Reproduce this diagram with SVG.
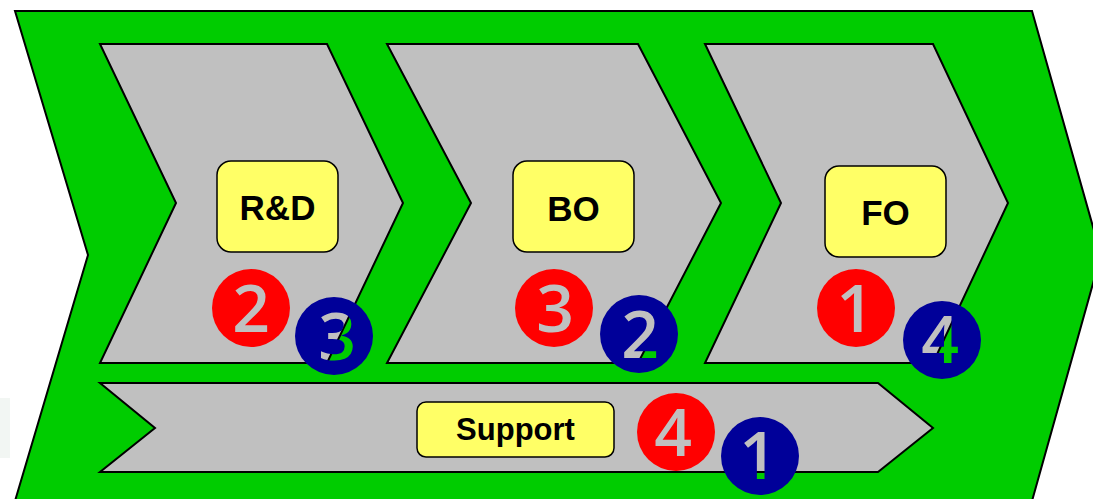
<svg xmlns="http://www.w3.org/2000/svg" xmlns:xlink="http://www.w3.org/1999/xlink" width="1093" height="499" viewBox="0 0 1093 499">
  <style>
    .frame { fill: #00cc00; stroke: #000; stroke-width: 2; stroke-linejoin: miter; }
    .stage { fill: #c0c0c0; stroke: #000; stroke-width: 2; stroke-linejoin: miter; }
    .box { fill: #ffff66; stroke: #000; stroke-width: 1.5; }
    .label { font-family: "Liberation Sans", Arial, sans-serif; font-weight: bold; fill: #000; text-anchor: middle; }
    .red { fill: #ff0000; }
    .blue { fill: #000099; }
    .digit { font-family: "Open Sans", "Noto Sans", sans-serif; font-weight: 600; font-size: 66px; text-anchor: middle; fill: url(#seeThrough); }
  </style>
  <defs>
    <pattern id="seeThrough" patternUnits="userSpaceOnUse" x="0" y="0" width="1093" height="499">
      <use xlink:href="#backdrop" href="#backdrop"/>
    </pattern>
  </defs>
  <rect x="0" y="0" width="1093" height="499" fill="#ffffff"/>
  <rect x="0" y="398" width="10" height="60" fill="#e6eee8" opacity="0.5"/>
  <g id="backdrop">
    <polygon id="value-chain" class="frame" points="15,11 1032,11 1101,255 1032,501 15,501 88,255"/>
    <g id="rd-stage"><polygon class="stage" points="100,44 327,44 403,203 327,363 100,363 176,203"/></g>
    <g id="bo-stage"><polygon class="stage" points="387,44 638,44 721,203 638,363 387,363 471,203"/></g>
    <g id="fo-stage"><polygon class="stage" points="705,44 933,44 1008,203 933,363 705,363 781,203"/></g>
    <g id="support-stage"><polygon class="stage" points="100,383 878,383 933,428 878,472 100,472 155,428"/></g>
  </g>
  <g id="connectors"></g>
  <g id="rd">
    <rect class="box" x="217" y="161" width="121" height="91" rx="14"/>
    <text class="label" x="277.5" y="220" font-size="35">R&amp;D</text>
  </g>
  <g id="bo">
    <rect class="box" x="513" y="161" width="121" height="91" rx="14"/>
    <text class="label" x="573.5" y="221" font-size="35">BO</text>
  </g>
  <g id="fo">
    <rect class="box" x="825" y="166" width="121" height="91" rx="14"/>
    <text class="label" x="885.5" y="225" font-size="35">FO</text>
  </g>
  <g id="support">
    <rect class="box" x="417" y="402" width="197" height="55" rx="9"/>
    <text class="label" x="515.5" y="440" font-size="31">Support</text>
  </g>
  <g id="rank-rd-red"><circle class="red" cx="251" cy="308" r="39"/><text class="digit" x="251" y="332">2</text></g>
  <g id="rank-rd-blue"><circle class="blue" cx="334" cy="336" r="39"/><text class="digit" x="337" y="360">3</text></g>
  <g id="rank-bo-red"><circle class="red" cx="554" cy="308" r="39"/><text class="digit" x="555" y="332">3</text></g>
  <g id="rank-bo-blue"><circle class="blue" cx="639" cy="334" r="39"/><text class="digit" x="640" y="358">2</text></g>
  <g id="rank-fo-red"><circle class="red" cx="856" cy="308" r="39"/><text class="digit" x="855" y="332">1</text></g>
  <g id="rank-fo-blue"><circle class="blue" cx="942" cy="340" r="39"/><text class="digit" x="940" y="363">4</text></g>
  <g id="rank-support-red"><circle class="red" cx="676" cy="432" r="39"/><text class="digit" x="673" y="456">4</text></g>
  <g id="rank-support-blue"><circle class="blue" cx="760" cy="456" r="39"/><text class="digit" x="758" y="479">1</text></g>
</svg>
